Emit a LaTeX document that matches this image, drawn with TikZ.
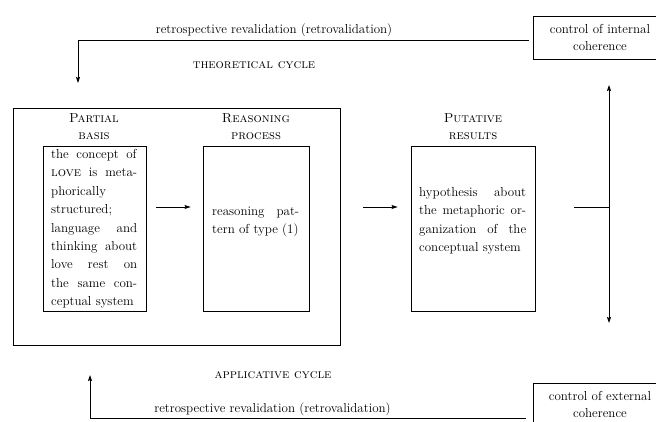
\documentclass[tikz,border=0pt]{standalone}
\usepackage{fontspec}
\usetikzlibrary{arrows.meta,calc}
\newcommand{\jpar}[2]{\parbox[t]{#1}{\tolerance=10000 \hbadness=10000 \hyphenpenalty=10000 #2}}
\begin{document}
\begin{tikzpicture}[x=1pt,y=-1pt,
  every node/.style={font=\fontsize{13}{18.4}\selectfont, inner sep=0pt},
  frame/.style={draw, line width=0.9pt},
  ctrlbox/.style={draw, line width=0.9pt, minimum width=134pt, minimum height=43pt, align=center, font=\fontsize{13}{17}\selectfont},
  arr/.style={-{Stealth[length=6pt,width=4pt,inset=1pt]}, line width=0.8pt},
  conn/.style={line width=0.8pt},
  body/.style={anchor=base west},
  lbl/.style={anchor=base},
]
\useasboundingbox (0,0) rectangle (656,421);
\clip (0,0) rectangle (656,421);
% frames
\node[frame, minimum width=327pt, minimum height=237pt] (big) at (176.5,226.5) {};
\node[frame, minimum width=103pt, minimum height=165pt] (b1) at (94.5,228.5) {};
\node[frame, minimum width=106pt, minimum height=165pt] (b2) at (256,228.5) {};
\node[frame, minimum width=124pt, minimum height=165pt] (b3) at (473,228.5) {};
\node[ctrlbox] (ci) at (600,37.5) {control of internal\\coherence};
\node[ctrlbox] (ce) at (600,404.5) {control of external\\coherence};
% titles
\node[lbl] (p1a) at (94,122.5) {\textsc{Partial}};
\node[lbl] (p1b) at (94,139.5) {\textsc{basis}};
\node[lbl] (p2a) at (256,122.5) {\textsc{Reasoning}};
\node[lbl] (p2b) at (256,139.5) {\textsc{process}};
\node[lbl] (p3a) at (473,122.5) {\textsc{Putative}};
\node[lbl] (p3b) at (473,139.5) {\textsc{results}};
% body texts
\node[body] (t1) at (51,158.5) {\jpar{86pt}{the concept of\linebreak \textsc{love} is meta-\linebreak phorically\linebreak structured;\linebreak language and\linebreak thinking about\linebreak love rest on\linebreak the same con-\linebreak ceptual system}};
\node[body] (t2) at (212,215) {\jpar{87pt}{reasoning pat-\linebreak tern of type (1)}};
\node[body] (t3) at (419,196.5) {\jpar{107pt}{hypothesis about\linebreak the metaphoric or-\linebreak ganization of the\linebreak conceptual system}};
% labels
\node[lbl] (rt) at (274,33) {retrospective revalidation (retrovalidation)};
\node[lbl] (tc) at (254,68) {\textsc{theoretical cycle}};
\node[lbl] (ac) at (273,378) {\textsc{applicative cycle}};
\node[lbl] (rb) at (272.5,412) {retrospective revalidation (retrovalidation)};
% connectors
\coordinate (tl) at (78,83);
\coordinate (bl) at (90,375);
\coordinate (my) at (0,207);
\coordinate (vj) at (609,207);
\coordinate (vt) at (609,85);
\coordinate (vb) at (609,323);
\draw[arr] ($(ci.west)+(-4,3)$) -| (tl);
\draw[arr] ($(ce.west)+(-7,14)$) -| (bl);
\draw[arr] ($(b1.east |- my)+(10,0)$) -- ($(b2.west |- my)+(-12,0)$);
\draw[arr] ($(big.east |- my)+(23,0)$) -- ($(b3.west |- my)+(-13,0)$);
\draw[conn] ($(b3.east |- my)+(39,0)$) -- (vj);
\draw[arr] (vj) -- (vt);
\draw[arr] (vj) -- (vb);
\end{tikzpicture}
\end{document}
